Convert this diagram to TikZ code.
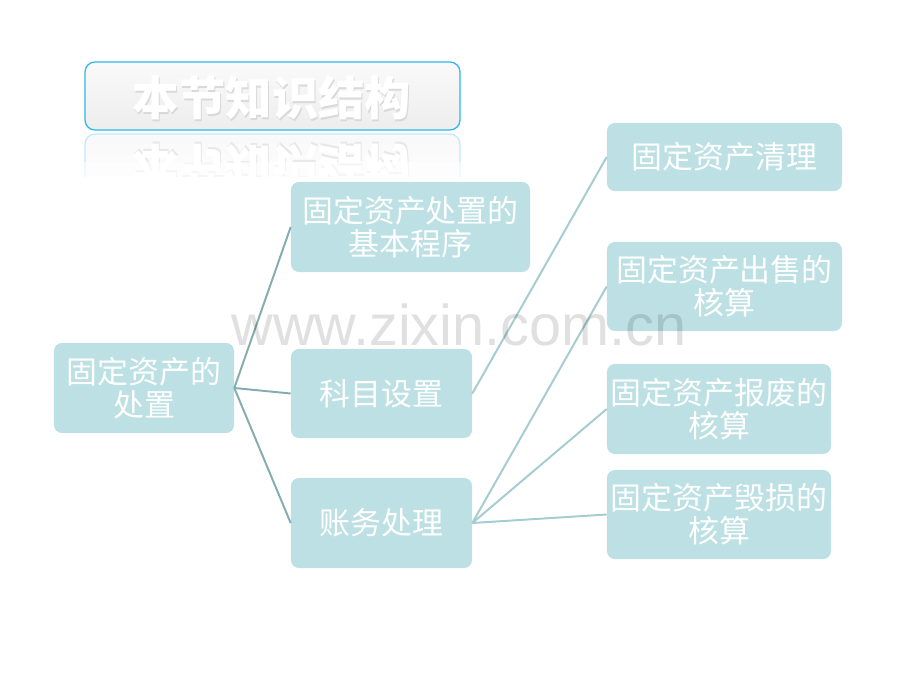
\documentclass[tikz,border=0pt]{standalone}
\usepackage{fontspec}
\usepackage{graphicx, xcolor}
\newfontfamily\cjk{Noto Sans CJK SC}
\setsansfont{Liberation Sans}
\usetikzlibrary{shadings}

\definecolor{boxfill}{RGB}{188,224,227}
\definecolor{leftline}{RGB}{133,173,176}
\definecolor{rightline}{RGB}{165,204,207}
\definecolor{titleedge}{RGB}{43,184,232}

\begin{document}
\begin{tikzpicture}[x=0.025cm, y=-0.025cm,
    item/.style={fill=boxfill, rounded corners=0.2cm, text=white, align=center,
        inner sep=0pt, font=\cjk\fontsize{22}{23.5}\selectfont},
    leftlink/.style={draw=leftline, line width=1.4pt},
    rightlink/.style={draw=rightline, line width=1.4pt}]

            \useasboundingbox (0,0) rectangle (920,690);

            % title and its reflection
            \shade[top color=gray!4, bottom color=gray!14, rounded corners=0.25cm]
                (85,62) rectangle (460,130);
            \draw[titleedge, line width=0.9pt, rounded corners=0.25cm] (85,62) rectangle (460,130);
            \node[text=gray!30, font=\cjk\bfseries\fontsize{33}{34}\selectfont] at (273,100) {本节知识结构};
            \node (title) [text=white, font=\cjk\bfseries\fontsize{33}{34}\selectfont] at (272,98) {本节知识结构};

            \begin{scope}
                \clip (80,133) rectangle (465,176);
                \shade[top color=gray!5, bottom color=white, rounded corners=0.25cm]
                    (85,134) rectangle (460,202);
                \draw[titleedge!30, line width=0.9pt, rounded corners=0.25cm] (85,134) rectangle (460,202);
                \node[text=gray!18, font=\cjk\bfseries\fontsize{33}{34}\selectfont] at (273,164)
                    {\scalebox{1}[-1]{本节知识结构}};
                \node[text=white, font=\cjk\bfseries\fontsize{33}{34}\selectfont] at (272,166)
                    {\scalebox{1}[-1]{本节知识结构}};
                \shade[top color=white, bottom color=white, opacity=0.6] (80,162) rectangle (465,176);
            \end{scope}

            % boxes
            \node (root) [item, minimum width=4.5cm, minimum height=2.25cm] at (144,388) {固定资产的\\处置};

            \node (basic) [item, minimum width=5.975cm, minimum height=2.25cm] at (410.5,227) {固定资产处置的\\基本程序};
            \node (subject) [item, minimum width=4.525cm, minimum height=2.225cm] at (381.5,393.5) {科目设置};
            \node (account) [item, minimum width=4.525cm, minimum height=2.25cm] at (381.5,523) {账务处理};

            \node (clear) [item, minimum width=5.875cm, minimum height=1.7cm] at (724.5,157) {固定资产清理};
            \node (sale) [item, minimum width=5.875cm, minimum height=2.225cm] at (724.5,286.5) {固定资产出售的\\核算};
            \node (scrap) [item, minimum width=5.6cm, minimum height=2.25cm] at (719,409) {固定资产报废的\\核算};
            \node (damage) [item, minimum width=5.6cm, minimum height=2.225cm] at (719,514.5) {固定资产毁损的\\核算};

            % links
            \foreach \x in {basic, subject, account}
            {
                \draw[leftlink] (root.east) -- (\x.west);
            }
            \draw[rightlink] (subject.east) -- (clear.west);
            \foreach \x in {sale, scrap, damage}
            {
                \draw[rightlink] (account.east) -- (\x.west);
            }

            % watermark
            \node (mark) [anchor=base, text=black, opacity=0.12, inner sep=0pt,
                font=\sffamily\fontsize{41}{41}\selectfont] at (459,345) {www.zixin.com.cn};

        \end{tikzpicture}
\end{document}
